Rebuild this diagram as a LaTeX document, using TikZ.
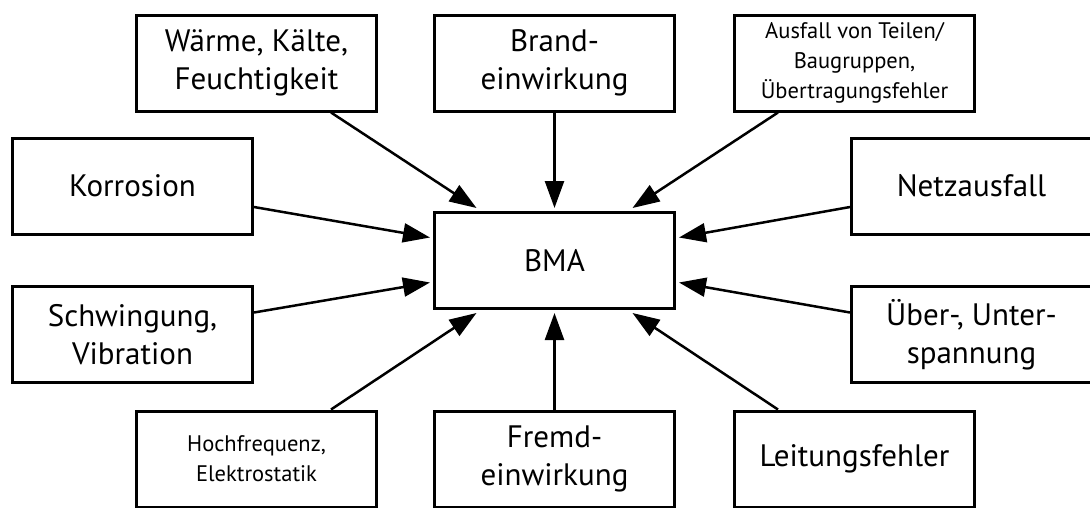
\documentclass[tikz,border=0pt]{standalone}
\usepackage{fontspec}
\setmainfont{PT Sans}
\usetikzlibrary{arrows.meta}
\begin{document}
\begin{tikzpicture}[x=1pt,y=-1pt,
  box/.style={draw, line width=3pt, minimum width=240pt, minimum height=96pt,
    inner sep=0pt, align=center, font=\fontsize{31}{38}\selectfont},
  smallbox/.style={box, font=\fontsize{22.5}{30}\selectfont},
  cause/.style={line width=2.5pt, -{Triangle[length=27pt,width=19pt]}}]
\useasboundingbox (0,0) rectangle (1090,507);
% central system
\node[box] (bma) at (554.5,260.5) {BMA};
% influences, top row
\node[box] (wk) at (256.5,63) {Wärme, Kälte,\\Feuchtigkeit};
\node[box] (br) at (554.5,63) {Brand-\\einwirkung};
\node[smallbox] (af) at (854.5,63) {Ausfall von Teilen/\\Baugruppen,\\Übertragungsfehler};
% side columns
\node[box] (ko) at (132.5,186) {Korrosion};
\node[box] (nz) at (971.5,186) {Netzausfall};
\node[box] (sw) at (132.5,334.5) {Schwingung,\\Vibration};
\node[box] (ub) at (971.5,334.5) {Über-, Unter-\\spannung};
% bottom row
\node[smallbox] (hf) at (256.5,459) {Hochfrequenz,\\Elektrostatik};
\node[box] (fr) at (554.5,459) {Fremd-\\einwirkung};
\node[box] (lf) at (854.5,459) {Leitungsfehler};
% arrows into the BMA
\draw[cause] ([xshift=74.5pt]wk.south) -- ([xshift=-78pt,yshift=3pt]bma.north);
\draw[cause] (br.south) -- ([yshift=3pt]bma.north);
\draw[cause] ([xshift=-76.5pt]af.south) -- ([xshift=78pt,yshift=3pt]bma.north);
\draw[cause] ([yshift=-21pt]ko.east) -- ([xshift=-3pt,yshift=23pt]bma.west);
\draw[cause] ([yshift=-21pt]nz.west) -- ([xshift=3pt,yshift=23pt]bma.east);
\draw[cause] ([yshift=22pt]sw.east) -- ([xshift=-3pt,yshift=-22pt]bma.west);
\draw[cause] ([yshift=22pt]ub.west) -- ([xshift=3pt,yshift=-22pt]bma.east);
\draw[cause] ([xshift=74.5pt]hf.north) -- ([xshift=-78pt,yshift=-3pt]bma.south);
\draw[cause] (fr.north) -- ([yshift=-3pt]bma.south);
\draw[cause] ([xshift=-76.5pt]lf.north) -- ([xshift=78pt,yshift=-3pt]bma.south);
\end{tikzpicture}
\end{document}
